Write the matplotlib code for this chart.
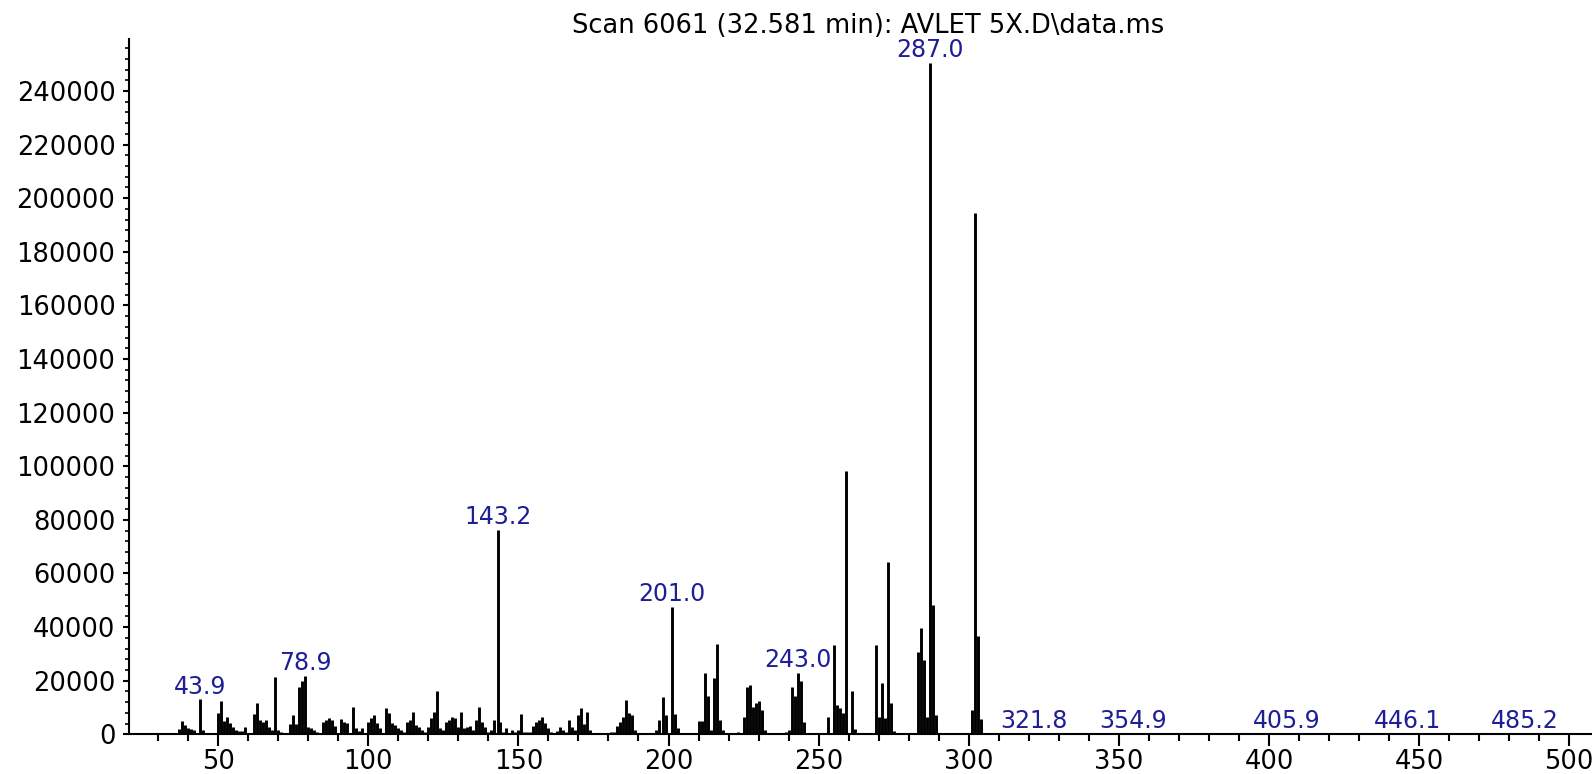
import matplotlib
matplotlib.use("Agg")
import matplotlib.pyplot as plt
from matplotlib.ticker import MultipleLocator, FuncFormatter

# Mass spectrum peaks: m/z and abundance
mz = [
    36, 37, 38, 39, 40, 41, 42, 43.9, 45, 48,
    50, 51, 52, 53, 54, 55, 56, 57, 58, 59, 60, 61,
    62, 63, 64, 65, 66, 67, 68, 69, 70, 71, 72, 74, 75, 76, 77, 78, 78.9,
    80, 81, 82, 83, 85, 86, 87, 88, 89, 91, 92, 93, 95, 96, 97, 98,
    100, 101, 102, 103, 104, 106, 107, 108, 109, 110,
    111, 112, 113, 114, 115, 116, 117, 118, 119, 120, 121, 122, 123, 124, 125,
    126, 127, 128, 129, 130, 131, 132, 133, 134, 135, 136, 137, 138, 139, 140,
    141, 142, 143.2, 144, 145, 146, 147, 148, 149, 150, 151, 152, 153, 154,
    155, 156, 157, 158, 159, 160, 161, 162, 163, 164, 165, 166, 167, 168, 169,
    170, 171, 172, 173, 174, 175,
    181, 182, 183, 184, 185, 186, 187, 188, 189, 191,
    196, 197, 198, 199, 201.0, 202, 203,
    209, 210, 211, 212, 213, 214, 215, 216, 217, 218,
    223, 225, 226, 227, 228, 229, 230, 231, 232,
    239, 240, 241, 242, 243.0, 244, 245, 246,
    252, 253, 255, 256, 257, 258, 259, 261, 262,
    269, 270, 271, 272, 273, 274, 275,
    283, 284, 285, 286, 287.0, 288, 289, 290,
    299, 301, 302, 303, 304, 306,
    321.8, 354.9, 405.9, 446.1, 485.2,
]
abundance = [
    600, 2000, 5000, 3500, 2500, 1800, 1600, 13000, 1500, 600,
    7800, 12400, 5000, 6600, 4100, 2900, 1600, 1200, 1200, 2900, 600, 600,
    7600, 11600, 5400, 4700, 5400, 2900, 1600, 21400, 1600, 1000, 600, 3900, 7200, 4000, 17800, 19700, 21800,
    2600, 2200, 1600, 1000, 4700, 5400, 6000, 5400, 3100, 5700, 4700, 4100, 10300, 2200, 1400, 2200,
    4700, 6000, 7200, 4100, 2200, 9700, 7800, 4100, 3500, 2200,
    1600, 1000, 4700, 5400, 8500, 3500, 2900, 1600, 800, 2600, 6000, 8500, 16300, 2200, 1600,
    4700, 5400, 6600, 6000, 2900, 8500, 2200, 2900, 3100, 1500, 5400, 10300, 4700, 2900, 1000,
    1500, 5400, 76200, 4700, 1000, 2200, 600, 1600, 1000, 1500, 7600, 1000, 1000, 800,
    3100, 4700, 5400, 6600, 4100, 2200, 1000, 600, 1400, 2900, 1600, 1000, 5400, 2900, 1600,
    7200, 9700, 4000, 8500, 1500, 600,
    1000, 1000, 3100, 4700, 6600, 12800, 7800, 7200, 1600, 300,
    1600, 5400, 13800, 7200, 47600, 7600, 2200,
    600, 5000, 5000, 22800, 14300, 1500, 20900, 33600, 5400, 1600,
    1000, 6600, 17800, 18500, 10300, 11600, 12300, 9100, 1600,
    1000, 1600, 17500, 14300, 23000, 20000, 4500, 600,
    600, 6600, 33300, 11000, 9700, 7900, 98200, 16200, 1900,
    33300, 6600, 19300, 6000, 64200, 11600, 1200,
    30800, 39800, 27700, 6600, 250500, 48200, 7200, 600,
    600, 9100, 194500, 36800, 5600, 600,
    300, 300, 300, 300, 300,
]
labeled_mz = [43.9, 78.9, 143.2, 201.0, 243.0, 287.0, 321.8, 354.9, 405.9, 446.1, 485.2]
title = "Scan 6061 (32.581 min): AVLET 5X.D\\data.ms"

W, H = 1592, 774
fig = plt.figure(figsize=(W / 100, H / 100), dpi=100)
ax = fig.add_axes([129 / W, (H - 734.3) / H, 1 - 129 / W, (734.3 - 39) / H])

ax.vlines(mz, 0, abundance, colors="black", linewidth=2.1)

ax.set_xlim(20.3, 507.6)
ax.set_ylim(0, 259400)

for side in ("top", "right"):
    ax.spines[side].set_visible(False)
for side in ("left", "bottom"):
    ax.spines[side].set_linewidth(1.5)

ax.xaxis.set_major_locator(MultipleLocator(50))
ax.xaxis.set_minor_locator(MultipleLocator(10))
ax.yaxis.set_major_locator(MultipleLocator(20000))
ax.yaxis.set_minor_locator(MultipleLocator(4000))
ax.xaxis.set_major_formatter(FuncFormatter(lambda v, p: f"{int(round(v))}"))
ax.yaxis.set_major_formatter(FuncFormatter(lambda v, p: f"{int(round(v))}"))

ax.tick_params(axis="x", which="major", direction="out", length=8.6, width=1.5,
               pad=2.0, labelsize=18.5, colors="black")
ax.tick_params(axis="x", which="minor", direction="out", length=4.7, width=1.5)
ax.tick_params(axis="y", which="major", direction="out", length=4.3, width=1.5,
               pad=5.5, labelsize=18.5)
ax.tick_params(axis="y", which="minor", direction="out", length=2.9, width=1.2)

label_color = "#1e1e96"
for m in labeled_mz:
    v = abundance[mz.index(m)]
    ax.annotate(f"{m:.1f}", xy=(m, v), xytext=(0, 4), textcoords="offset points",
                ha="center", va="baseline", fontsize=17, color=label_color,
                annotation_clip=False)

fig.text(868 / W, 1 - 33 / H, title, ha="center", va="baseline", fontsize=18.5)

fig.savefig("out.png", dpi=100)
